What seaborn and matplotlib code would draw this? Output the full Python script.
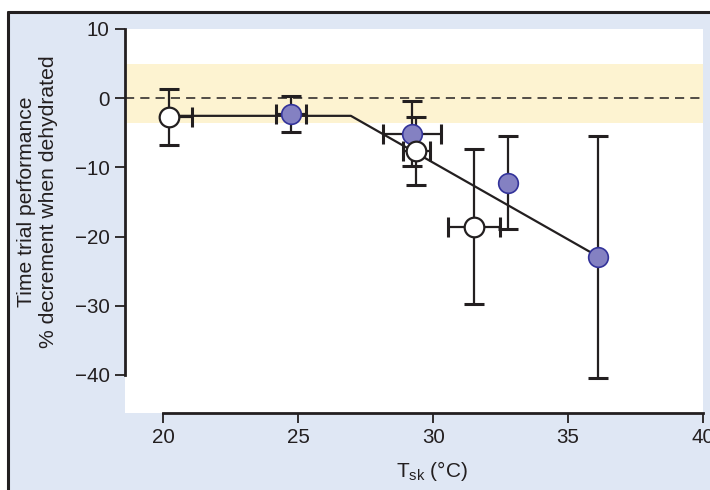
import matplotlib
matplotlib.use("Agg")
import matplotlib.pyplot as plt
import seaborn as sns
import pandas as pd
import numpy as np
from matplotlib.patches import Rectangle
from matplotlib.lines import Line2D

# ---- data ----
open_x = [20.2, 29.35, 31.5]
open_y = [-2.7, -7.7, -18.6]
open_y_lo = [6.8 - 2.7, 12.6 - 7.7, 29.8 - 18.6]   # distance down
open_y_hi = [2.7 + 1.3, 7.7 - 2.7, 18.6 - 7.4]     # distance up
open_x_lo = [0.0, 0.48, 0.95]
open_x_hi = [0.85, 0.53, 0.97]

filled_x = [24.73, 29.21, 32.77, 36.12]
filled_y = [-2.3, -5.2, -12.2, -22.9]
filled_y_lo = [4.85 - 2.3, 9.8 - 5.2, 18.9 - 12.2, 40.5 - 22.9]
filled_y_hi = [2.3 + 0.35, 5.2 - 0.35, 12.2 - 5.5, 22.9 - 5.4]
filled_x_lo = [0.57, 1.08, 0.0, 0.0]
filled_x_hi = [0.57, 1.08, 0.0, 0.0]

fit_x = [20.2, 26.95, 36.12]
fit_y = [-2.55, -2.55, -22.9]

band_lo, band_hi = -3.6, 4.9
x_ticks = [20, 25, 30, 35, 40]
y_ticks = [10, 0, -10, -20, -30, -40]

# ---- style ----
sns.set_theme(style="white")
plt.rcParams['font.family'] = ['Liberation Sans', 'DejaVu Sans']
plt.rcParams['mathtext.fontset'] = 'custom'
plt.rcParams['mathtext.rm'] = 'Liberation Sans'
plt.rcParams['mathtext.it'] = 'Liberation Sans'
plt.rcParams['axes.unicode_minus'] = True

INK = '#231f20'
BG = '#dfe7f4'
PURPLE = '#8481c2'
PURPLE_EDGE = '#33339a'
BAND = '#fdf3d1'

fig = plt.figure(figsize=(7.1, 4.9), dpi=100, facecolor='white')
W, H = 710, 490
# blue panel with black left/top borders
fig.patches.append(Rectangle((7.5 / W, 0), 1, 1 - 12 / H, transform=fig.transFigure,
                             facecolor=BG, edgecolor='none', zorder=-10))
fig.lines.append(Line2D([7.5 / W, 7.5 / W], [0, 1 - 12 / H], transform=fig.transFigure,
                        color=INK, lw=2.2))
fig.lines.append(Line2D([7.5 / W, 1], [1 - 12 / H, 1 - 12 / H], transform=fig.transFigure,
                        color=INK, lw=2.2))

ax = fig.add_axes([125 / W, (H - 413) / H, (703 - 125) / W, (413 - 29) / H])
ax.set_facecolor('white')
ax.set_xlim(18.58, 40)
ax.set_ylim(-45.5, 10)

ax.axhspan(band_lo, band_hi, color=BAND, lw=0, zorder=0)
ax.axhline(0, color=INK, lw=1.1, ls=(0, (6, 4)), zorder=1)

fit_df = pd.DataFrame({'x': fit_x, 'y': fit_y})
sns.lineplot(data=fit_df, x='x', y='y', color=INK, lw=1.6, ax=ax, zorder=2,
             sort=False, estimator=None)

ebkw = dict(fmt='none', ecolor=INK, elinewidth=1.6, capsize=7, capthick=2.2, zorder=3)
ax.errorbar(filled_x, filled_y, yerr=[filled_y_lo, filled_y_hi],
            xerr=[filled_x_lo, filled_x_hi], **ebkw)
ax.errorbar(open_x, open_y, yerr=[open_y_lo, open_y_hi],
            xerr=[open_x_lo, open_x_hi], **ebkw)

fdf = pd.DataFrame({'x': filled_x, 'y': filled_y})
odf = pd.DataFrame({'x': open_x, 'y': open_y})
sns.scatterplot(data=fdf, x='x', y='y', s=200, color=PURPLE, edgecolor=PURPLE_EDGE,
                linewidth=1.2, ax=ax, zorder=4)
sns.scatterplot(data=odf, x='x', y='y', s=200, color='white', edgecolor=INK,
                linewidth=1.6, ax=ax, zorder=5)

sns.despine(ax=ax)
ax.spines['left'].set_bounds(-40, 10)
ax.spines['bottom'].set_bounds(20, 40)
for s in ('left', 'bottom'):
    ax.spines[s].set_color(INK)
    ax.spines[s].set_linewidth(2.0)

ax.set_xticks(x_ticks)
ax.set_yticks(y_ticks)
ax.set_xticklabels([str(t) for t in x_ticks])
ax.set_yticklabels([str(t).replace('-', '\u2212') for t in y_ticks])
ax.tick_params(axis='both', which='both', direction='out', length=7, width=1.3,
               color=INK, labelcolor=INK, labelsize=14.8, pad=4, left=True, bottom=True)

ax.set_xlabel('')
ax.set_ylabel('')
fig.text(432 / W, 1 - 471 / H, r'T$_{\mathrm{sk}}$ (°C)', ha='center', va='center',
         fontsize=15, color=INK)
fig.text(38 / W, 1 - 201.5 / H, 'Time trial performance\n% decrement when dehydrated',
         rotation=90, ha='center', va='center', multialignment='center',
         fontsize=15.2, color=INK, linespacing=1.2)

fig.savefig('out.png', dpi=100, facecolor=fig.get_facecolor())
